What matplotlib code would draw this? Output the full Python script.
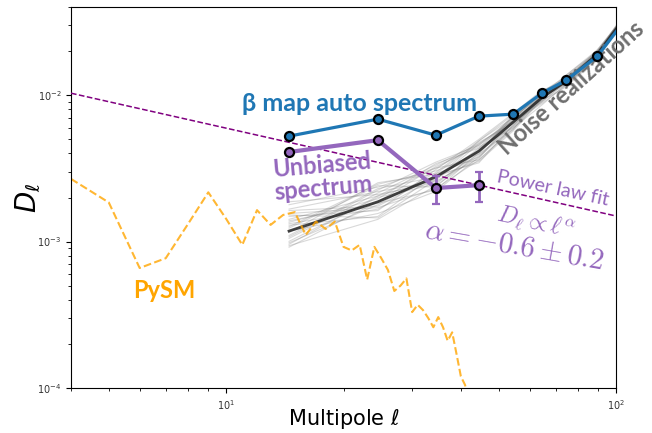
import numpy as np
import matplotlib.pyplot as plt
from matplotlib.ticker import NullFormatter

# binned spectra (bin centres)
ell_bins = [14.5, 24.5, 34.5, 44.5, 54.5, 64.5, 74.5, 89.5, 104.5]
beta_auto = [5.25e-3, 6.86e-3, 5.33e-3, 7.19e-3, 7.42e-3, 1.03e-2, 1.265e-2, 1.84e-2, 3.15e-2]
noise_mean = [1.18e-3, 1.87e-3, 2.77e-3, 4.15e-3, 6.55e-3, 9.6e-3, 1.25e-2, 1.9e-2, 3.3e-2]

ell_unbiased = [14.5, 24.5, 34.5, 44.5]
unbiased = [4.09e-3, 4.93e-3, 2.32e-3, 2.43e-3]
unbiased_err = [0.0, 0.0, 5.0e-4, 5.6e-4]

# individual noise realizations, offsets from the mean in units of 0.01 dex
noise_offsets = [
    [18, 10, 6, 4, 3, 2, 2, 1, 1],
    [-10, -12, -6, -3, -2, -1, 0, -1, -2],
    [8, 4, -2, 2, 4, 1, -2, 0, 1],
    [-5, 6, 8, 5, 1, -3, -1, 2, 2],
    [12, -4, -8, -6, -4, -2, 1, -1, 0],
    [3, 12, 4, -2, -5, 0, 3, 2, -1],
    [-8, -2, 3, 7, 5, 3, -2, -2, 1],
    [15, 7, -3, -5, 2, 4, 2, 1, 2],
    [0, -8, -10, -4, 0, -4, -3, -2, -2],
    [6, 2, 9, 2, -3, 2, 4, 3, 1],
    [-3, 9, 0, -7, -6, -1, 1, -1, -1],
    [10, -6, 5, 8, 6, 5, 0, 0, 2],
    [-7, 3, -5, 0, 3, -2, -4, -3, -2],
    [4, -10, 2, 6, -1, 3, 1, 2, 0],
    [20, 5, -4, -2, 4, 0, -1, 1, 3],
    [-11, 0, 7, 3, -4, -5, -2, -1, -1],
    [2, 11, -7, 1, 2, 4, 3, 0, 0],
    [14, -3, 1, -8, -2, 1, -3, -2, 1],
    [-4, 8, 10, 4, 0, -3, 0, 2, -2],
    [7, -1, -9, -1, 5, 2, 2, -1, 1],
    [-1, 13, 2, -4, -3, 0, -1, 1, 2],
    [11, -11, -2, 5, 1, -2, 4, 2, -1],
    [-9, 4, 6, -6, -5, 3, -2, -2, 0],
    [5, -5, -1, 7, 3, -1, 1, 3, 1],
]

# PySM foreground spectrum
ell_pysm = list(range(4, 43))
pysm = [2.68e-3, 1.85e-3, 6.6e-4, 7.7e-4, 1.33e-3, 2.17e-3, 1.43e-3, 9.5e-4,
        1.64e-3, 1.30e-3, 1.52e-3, 1.59e-3, 1.11e-3, 1.37e-3, 1.22e-3, 1.37e-3,
        9.2e-4, 8.7e-4, 9.5e-4, 5.5e-4, 9.2e-4, 7.7e-4, 6.4e-4, 4.6e-4,
        5.0e-4, 5.6e-4, 3.3e-4, 3.7e-4, 3.4e-4, 3.0e-4, 2.6e-4, 3.05e-4,
        2.6e-4, 2.1e-4, 2.4e-4, 1.7e-4, 1.2e-4, 1.05e-4, 8e-5]

# power law fit D_ell = A * ell^alpha
fit_amp = 0.0237
fit_alpha = -0.6
ell_fit = np.array([4.0, 100.0])

fig = plt.figure(figsize=(6.52, 4.33), dpi=100)
ax = fig.add_axes([0.1089, 0.1039, 0.8359, 0.8799])

ell_b = np.array(ell_bins)
mean_b = np.array(noise_mean)
for off in noise_offsets:
    ax.plot(ell_b, mean_b * 10 ** (np.array(off) / 100.0), color='grey', alpha=0.3, lw=0.8, zorder=1)
ax.plot(ell_b, mean_b, color='#222222', lw=2, alpha=0.85, zorder=2)

ax.plot(ell_pysm, pysm, color='orange', ls='--', lw=1.5, alpha=0.8, zorder=2)
ax.plot(ell_fit, fit_amp * ell_fit ** fit_alpha, color='purple', ls='--', lw=1.1, zorder=3)

ax.plot(ell_bins, beta_auto, color='#1f77b4', lw=2.3, marker='o', ms=6.5,
        mfc='#1f77b4', mec='k', mew=1.6, zorder=5)
ax.errorbar(ell_unbiased, unbiased, yerr=unbiased_err, color='#9467bd', lw=3,
            elinewidth=2, capsize=3, capthick=2, marker='o', ms=6.5,
            mfc='#9467bd', mec='k', mew=1.6, zorder=6)

ax.set_xscale('log')
ax.set_yscale('log')
ax.set_xlim(4, 100)
ax.set_ylim(1e-4, 0.04)
ax.xaxis.set_minor_formatter(NullFormatter())
ax.yaxis.set_minor_formatter(NullFormatter())
ax.tick_params(labelsize=7, labelcolor='#333333')

ax.set_xlabel(r'Multipole $\ell$', fontsize=15)
ax.set_ylabel(r'$D_\ell$', fontsize=20)
ax.xaxis.set_label_coords(0.5, -0.05)
ax.yaxis.set_label_coords(-0.052, 0.5)

ann = ['Lato', 'DejaVu Sans']
ax.text(0.530, 0.748, 'β map auto spectrum', transform=ax.transAxes, ha='center', va='center',
        fontsize=18, fontweight='bold', color='#1f77b4', family=ann)
ax.text(0.462, 0.554, 'Unbiased\nspectrum', transform=ax.transAxes, ha='center', va='center',
        fontsize=17, fontweight='bold', color='#9467bd', family=ann, rotation=5,
        linespacing=1.0)
ax.text(0.80, 0.61, 'Noise realizations', transform=ax.transAxes, ha='left', va='baseline',
        rotation=42, rotation_mode='anchor', fontsize=17, fontweight='bold',
        color='#6e6e6e', family=ann)
ax.text(0.78, 0.541, 'Power law fit', transform=ax.transAxes, ha='left', va='baseline',
        rotation=-12, rotation_mode='anchor', fontsize=14, color='#9467bd', family=ann)
ax.text(0.778, 0.436, r'$D_\ell \propto \ell^\alpha$', transform=ax.transAxes, ha='left',
        va='baseline', rotation=-12, rotation_mode='anchor', fontsize=17, color='#9467bd',
        math_fontfamily='cm')
ax.text(0.646, 0.394, r'$\alpha = -0.6 \pm 0.2$', transform=ax.transAxes, ha='left',
        va='baseline', rotation=-10, rotation_mode='anchor', fontsize=21, color='#9467bd',
        math_fontfamily='cm')
ax.text(0.172, 0.257, 'PySM', transform=ax.transAxes, ha='center', va='center',
        fontsize=17, fontweight='bold', color='orange', family=ann)

fig.savefig('out.png', dpi=100)
